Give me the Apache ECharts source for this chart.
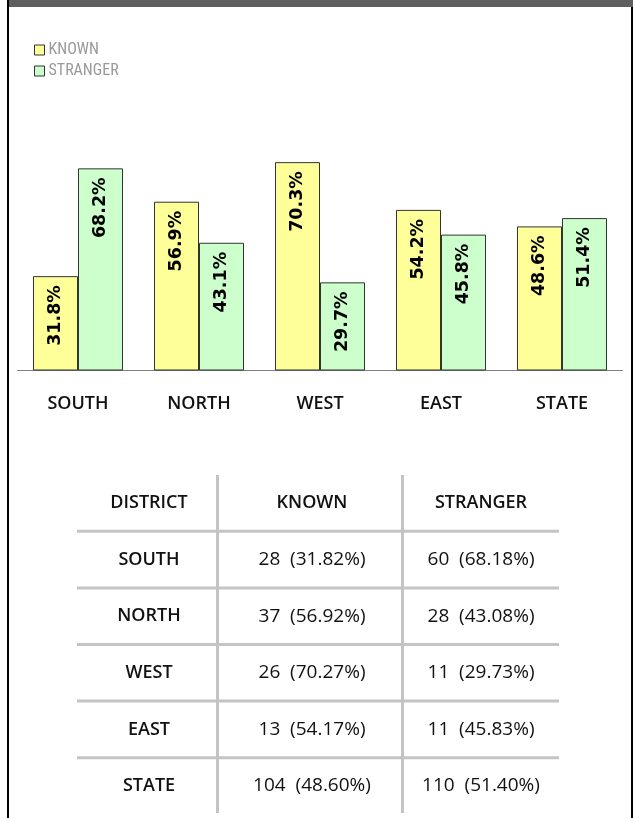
<!DOCTYPE html>
<html>
<head>
<meta charset="utf-8">
<script src="https://cdn.jsdelivr.net/npm/echarts@6/dist/echarts.min.js"></script>
<style>
html,body{margin:0;padding:0;background:#fff;}
#c{width:633px;height:818px;}
</style>
</head>
<body>
<div id="c"></div>
<script>
var categories = ['SOUTH', 'NORTH', 'WEST', 'EAST', 'STATE'];
var seriesNames = ['KNOWN', 'STRANGER'];
var knownPct = [31.82, 56.92, 70.27, 54.17, 48.60];
var strangerPct = [68.18, 43.08, 29.73, 45.83, 51.40];
var knownCount = [28, 37, 26, 13, 104];
var strangerCount = [60, 28, 11, 11, 110];
var tableHeader = ['DISTRICT', 'KNOWN', 'STRANGER'];

var chart = echarts.init(document.getElementById('c'), null, {renderer: 'canvas'});

var tableFont = '"Open Sans", "Noto Sans", sans-serif';
var colX = [149, 312, 481];
var rowY0 = 503, rowStep = 56.6;
var graphics = [];
// frame
graphics.push({type: 'rect', shape: {x: 9, y: 0, width: 624, height: 7}, style: {fill: '#5f5f5f'}, silent: true});
graphics.push({type: 'rect', shape: {x: 7, y: 0, width: 2, height: 818}, style: {fill: '#000'}, silent: true});
graphics.push({type: 'rect', shape: {x: 631, y: 7, width: 2, height: 811}, style: {fill: '#000'}, silent: true});
// table lines
[217.5, 402.5].forEach(function (x) {
  graphics.push({type: 'line', shape: {x1: x, y1: 475, x2: x, y2: 813}, style: {stroke: '#c4c4c4', lineWidth: 3}, silent: true});
});
for (var i = 0; i < categories.length; i++) {
  var ly = rowY0 + rowStep * (i + 0.5);
  graphics.push({type: 'line', shape: {x1: 77, y1: ly, x2: 559, y2: ly}, style: {stroke: '#c4c4c4', lineWidth: 3}, silent: true});
}
// header
tableHeader.forEach(function (h, j) {
  graphics.push({type: 'text', x: colX[j], y: rowY0, style: {text: h, font: '600 18px ' + tableFont, fill: '#111', align: 'center', verticalAlign: 'middle'}, silent: true});
});
function cell(count, pct) { return count + '  (' + pct.toFixed(2) + '%)'; }
categories.forEach(function (c, i) {
  var y = rowY0 + rowStep * (i + 1);
  graphics.push({type: 'text', x: colX[0], y: y, style: {text: c, font: '600 18px ' + tableFont, fill: '#111', align: 'center', verticalAlign: 'middle'}, silent: true});
  graphics.push({type: 'text', x: colX[1], y: y, style: {text: cell(knownCount[i], knownPct[i]), font: '400 19px ' + tableFont, fill: '#111', align: 'center', verticalAlign: 'middle'}, silent: true});
  graphics.push({type: 'text', x: colX[2], y: y, style: {text: cell(strangerCount[i], strangerPct[i]), font: '400 19px ' + tableFont, fill: '#111', align: 'center', verticalAlign: 'middle'}, silent: true});
});

var barLabel = {
  show: true,
  position: 'insideTop',
  rotate: 90,
  align: 'right',
  verticalAlign: 'middle',
  distance: 9,
  color: '#000',
  fontFamily: '"DejaVu Sans", sans-serif',
  fontWeight: 'bold',
  fontSize: 17.5,
  formatter: function (p) { return p.value.toFixed(1) + '%'; }
};

chart.setOption({
  animation: false,
  backgroundColor: '#fff',
  legend: {
    data: seriesNames,
    orient: 'vertical',
    left: 34,
    top: 42,
    padding: 0,
    itemWidth: 10,
    itemHeight: 10,
    itemGap: 5,
    icon: 'rect',
    itemStyle: {borderColor: '#333', borderWidth: 1},
    textStyle: {color: '#999', fontFamily: '"Liberation Sans Narrow", "Roboto Condensed", Roboto, sans-serif', fontSize: 16, lineHeight: 16, padding: [0, 0, 0, -1]},
    selectedMode: false
  },
  grid: {left: 17.5, right: 10.5, top: 74, bottom: 447.5, containLabel: false},
  xAxis: {
    type: 'category',
    data: categories,
    axisLine: {lineStyle: {color: '#808080', width: 1}},
    axisTick: {show: false},
    axisLabel: {margin: 24, color: '#111', fontFamily: tableFont, fontWeight: 600, fontSize: 18}
  },
  yAxis: {type: 'value', min: 0, max: 100, show: false, splitLine: {show: false}},
  series: [
    {name: seriesNames[0], type: 'bar', data: knownPct, barGap: '0%', barCategoryGap: '25.6%',
     itemStyle: {color: '#FFFF99', borderColor: '#333', borderWidth: 1}, label: barLabel},
    {name: seriesNames[1], type: 'bar', data: strangerPct,
     itemStyle: {color: '#CCFFCC', borderColor: '#333', borderWidth: 1}, label: barLabel}
  ],
  graphic: graphics
});
</script>
</body>
</html>
